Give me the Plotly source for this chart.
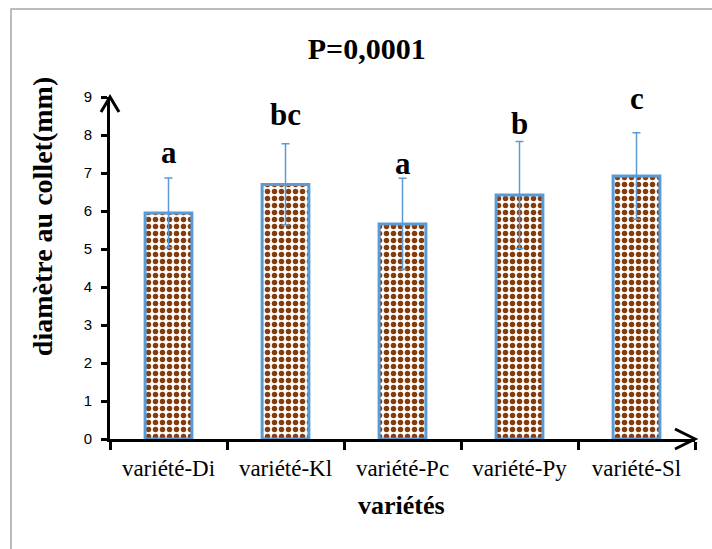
import plotly.graph_objects as go

categories = ["variété-Di", "variété-Kl", "variété-Pc", "variété-Py", "variété-Sl"]
means = [5.95, 6.70, 5.66, 6.42, 6.92]
errors = [0.92, 1.07, 1.20, 1.41, 1.14]
letters = ["a", "bc", "a", "b", "c"]
letter_y = [7.53, 8.55, 7.26, 8.29, 8.95]
y_ticks = [0, 1, 2, 3, 4, 5, 6, 7, 8, 9]

BROWN = "#843C0C"
BLUE = "#5B9BD5"
SERIF = "Liberation Serif, Times New Roman, serif"
SANS = "Liberation Sans, Arial, sans-serif"

fig = go.Figure()
fig.add_trace(go.Bar(
    x=categories, y=means, width=0.4,
    marker=dict(color="white",
                line=dict(color=BLUE, width=3),
                pattern=dict(shape=".", fgcolor=BROWN, bgcolor="white",
                             fgopacity=1, size=7, solidity=0.48,
                             fillmode="replace")),
    error_y=dict(type="data", array=errors, visible=True,
                 color=BLUE, thickness=1.5, width=4),
    showlegend=False,
))

for c, t, yv in zip(categories, letters, letter_y):
    fig.add_annotation(x=c, y=yv, text="<b>%s</b>" % t, showarrow=False,
                       xanchor="center", yanchor="middle",
                       font=dict(family=SERIF, size=31, color="black"))

# y axis title
fig.add_annotation(xref="paper", yref="paper", x=-0.116, y=0.649,
                   text="<b>diamètre au collet(mm)</b>", textangle=-90,
                   showarrow=False, xanchor="center", yanchor="middle",
                   font=dict(family=SERIF, size=28, color="black"))
# x axis title
fig.add_annotation(xref="paper", yref="paper", x=0.499, y=-0.193,
                   text="<b>variétés</b>", showarrow=False,
                   xanchor="center", yanchor="middle",
                   font=dict(family=SERIF, size=26, color="black"))

# axis arrows and chart border
fig.add_shape(type="path", xref="paper", yref="paper", xsizemode="pixel",
              ysizemode="pixel", xanchor=0, yanchor=1,
              path="M -9,-15 L 0,0 L 9,-15", line=dict(color="black", width=3))
fig.add_shape(type="path", xref="paper", yref="paper", xsizemode="pixel",
              ysizemode="pixel", xanchor=1, yanchor=0,
              path="M -20,10 L 0,0 L -20,-10", line=dict(color="black", width=3))
fig.add_shape(type="rect", xref="paper", yref="paper",
              x0=-0.1692, x1=1.2, y0=-0.6, y1=1.2573,
              line=dict(color="#A6A6A6", width=1.5), layer="below")

fig.update_layout(
    width=712, height=549,
    margin=dict(l=110, r=17, t=97, b=110),
    paper_bgcolor="white", plot_bgcolor="white",
    title=dict(text="<b>P=0,0001</b>", x=0.515, xref="container",
               y=1 - 48 / 549, yref="container", xanchor="center", yanchor="middle",
               font=dict(family=SERIF, size=30, color="black")),
    xaxis=dict(type="category", showline=True, linecolor="black", linewidth=3,
               ticks="outside", ticklen=8, tickwidth=2.5, tickcolor="black",
               tickson="boundaries", showgrid=False, zeroline=False,
               tickfont=dict(family=SERIF, size=23, color="black"),
               ticklabelstandoff=6, range=[-0.5, 4.5]),
    xaxis2=dict(type="linear", overlaying="x", anchor="y", range=[-0.5, 4.5],
                tickvals=[-0.5, 0.5, 1.5, 2.5, 3.5, 4.5], showticklabels=False,
                ticks="inside", ticklen=7, tickwidth=2.5, tickcolor="black",
                showgrid=False, zeroline=False, side="bottom"),
    yaxis=dict(range=[0, 9], tickvals=y_ticks, showline=True, linecolor="black",
               linewidth=3, ticks="outside", ticklen=6, tickwidth=2.5,
               tickcolor="black", showgrid=False, zeroline=False,
               tickfont=dict(family=SANS, size=15, color="black"),
               ticklabelstandoff=6),
)

fig.write_html("out.html", config={"displayModeBar": False},
               post_script="document.body.style.margin='0';")
